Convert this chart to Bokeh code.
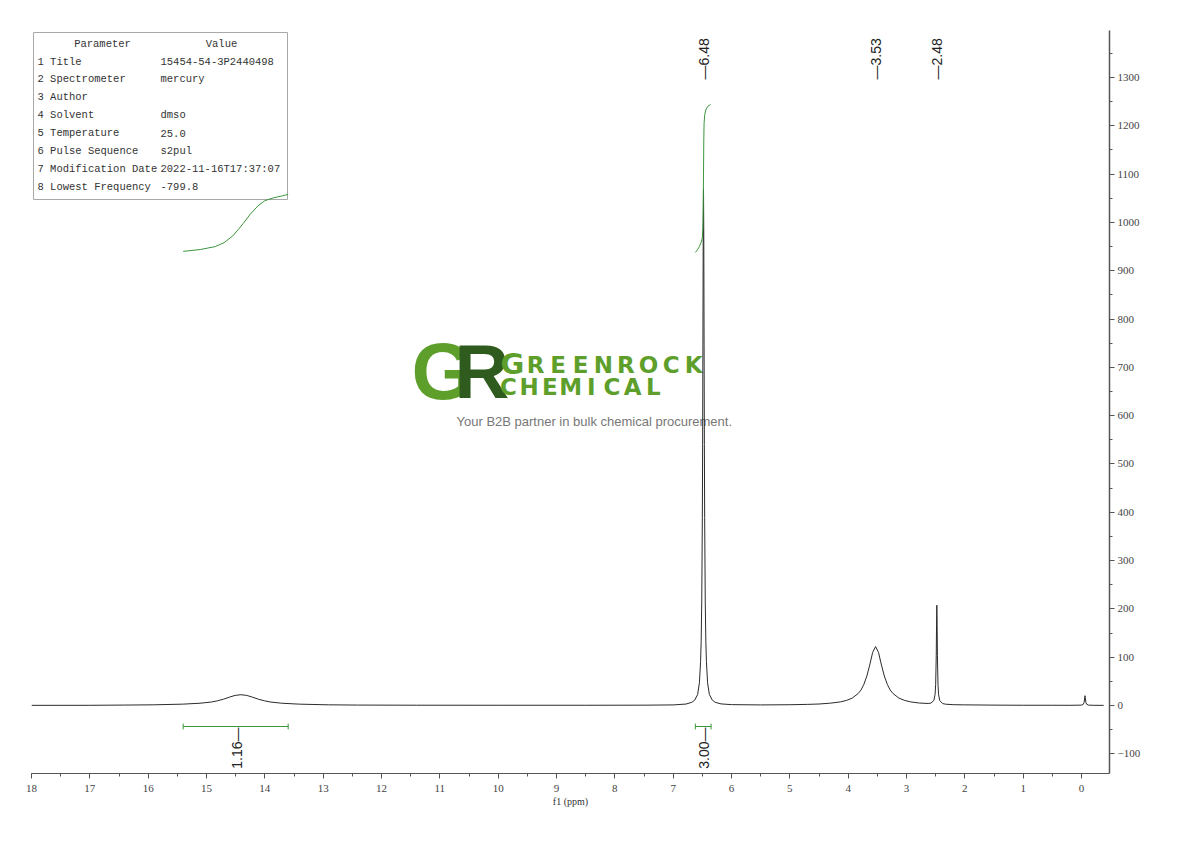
import math
from bokeh.plotting import figure
from bokeh.models import Range1d, SingleIntervalTicker
from bokeh.core.properties import value
from bokeh.embed import file_html
from bokeh.resources import INLINE

# 1H trace: chemical shift (ppm) and intensity
SPEC_PPM = [18.0, 17.0, 16.41, 15.91, 15.41, 15.11, 14.91, 14.81, 14.71, 14.61, 14.51, 14.41,
            14.31, 14.21, 14.11, 14.01, 13.91, 13.71, 13.41, 12.91, 12.41, 11.4, 10.0, 8.5,
            7.5, 7.0, 6.78, 6.68, 6.63, 6.58, 6.55, 6.53, 6.52, 6.51, 6.50, 6.495, 6.49, 6.485,
            6.48, 6.475, 6.47, 6.465, 6.46, 6.45, 6.44, 6.43, 6.41, 6.38, 6.33, 6.28, 6.18,
            6.0, 5.5, 5.0, 4.7, 4.5, 4.3, 4.13, 4.03, 3.93, 3.83, 3.78, 3.73, 3.68, 3.63, 3.58,
            3.53, 3.48, 3.43, 3.38, 3.33, 3.28, 3.23, 3.13, 3.03, 2.93, 2.78, 2.63, 2.58, 2.53,
            2.51, 2.50, 2.49, 2.485, 2.48, 2.475, 2.47, 2.46, 2.45, 2.43, 2.38, 2.33, 2.2, 2.0,
            1.5, 1.0, 0.5, 0.2, 0.0, -0.03, -0.045, -0.055, -0.06, -0.065, -0.075, -0.09,
            -0.12, -0.2, -0.38]
SPEC_INT = [0.3, 0.4, 0.9, 1.4, 2.8, 4.7, 7.3, 9.8, 13.0, 17.2, 20.9, 22.3,
            20.9, 17.2, 13.0, 9.8, 7.3, 4.7, 2.8, 1.4, 0.9, 0.6, 0.5, 0.5,
            0.7, 1.2, 3.0, 6.6, 11.3, 23, 47, 91, 133, 216, 389, 540, 748, 972,
            1070, 972, 748, 540, 389, 216, 133, 91, 47, 23, 11.3, 6.6, 3.3,
            1.8, 1.2, 1.6, 2.3, 3.1, 4.9, 7.5, 10.5, 15.3, 24.7, 32, 44, 61, 84, 110,
            122, 110, 84, 61, 44, 32, 24.7, 15.3, 10.5, 7.5, 5.1, 4.2, 5.0, 10.6,
            23, 43.5, 104.5, 166.5, 207.5, 166, 104, 43, 22.5, 10, 4.0, 2.7, 1.7, 1.3,
            0.8, 0.5, 0.5, 0.4, 0.8, 2.3, 6.5, 16.3, 20.3, 16.3, 6.5, 2.3,
            0.8, 0.4, 0.3]

PEAK_PPM = [6.48, 3.53, 2.48]
PEAK_LABELS = ["\u20146.48", "\u20143.53", "\u20142.48"]

INT_FROM = [15.4, 6.62]
INT_TO = [13.6, 6.35]
INT_MID = [14.48, 6.48]
INT_VALUES = ["1.16\u2014", "3.00\u2014"]

# integral curves (green)
INT1_PPM = [15.4, 15.1, 14.85, 14.7, 14.55, 14.45, 14.37, 14.25, 14.12, 14.0, 13.85, 13.7, 13.6]
INT1_Y = [940, 944, 950, 958, 972, 986, 998, 1017, 1034, 1045, 1051, 1055, 1058]
INT2_PPM = [6.62, 6.58, 6.55, 6.52, 6.50, 6.49, 6.485, 6.48, 6.475, 6.47, 6.46, 6.44, 6.41, 6.36]
INT2_Y = [938, 944, 950, 959, 968, 990, 1030, 1100, 1170, 1205, 1222, 1233, 1240, 1244]

PARAM_NAMES = ["1 Title", "2 Spectrometer", "3 Author", "4 Solvent", "5 Temperature",
               "6 Pulse Sequence", "7 Modification Date", "8 Lowest Frequency"]
PARAM_VALUES = ["15454-54-3P2440498", "mercury", "", "dmso", "25.0", "s2pul",
                "2022-11-16T17:37:07", "-799.8"]

GREEN = "#3c963c"
LOGO_LIGHT = "#5e9f2c"
LOGO_DARK = "#2f5c1e"


# pixel helpers for annotation placement (frame: 18 ppm at x=31, 0 at x=1081; 0 at y=705)
def sx(px):
    return 18 - (px - 31) / 58.333


def sy(py):
    return (705 - py) / 0.48308


p = figure(frame_width=1078, frame_height=743,
           x_range=Range1d(18.0, -0.48), y_range=Range1d(sy(773), sy(30)),
           y_axis_location="right", toolbar_location=None, tools="",
           output_backend="svg", min_border_left=31, min_border_top=30,
           min_border_right=10, min_border_bottom=10)
p.outline_line_color = None
p.grid.visible = False

for ax in (p.xaxis[0], p.yaxis[0]):
    ax.axis_line_color = "#555555"
    ax.major_tick_line_color = "#555555"
    ax.minor_tick_line_color = "#555555"
    ax.major_tick_in = 0
    ax.major_tick_out = 5
    ax.minor_tick_in = 0
    ax.minor_tick_out = 3
    ax.major_label_text_font = "Liberation Serif"
    ax.major_label_text_font_size = "11px"
    ax.major_label_text_color = "#444444"

p.xaxis.ticker = SingleIntervalTicker(interval=1, num_minor_ticks=2)
p.yaxis.ticker = SingleIntervalTicker(interval=100, num_minor_ticks=2)
p.xaxis.major_label_standoff = 6
p.yaxis.major_label_standoff = 3
p.yaxis.axis_line_width = 1.5
p.xaxis.axis_label = "f1 (ppm)"
p.xaxis.axis_label_text_font = "Liberation Serif"
p.xaxis.axis_label_text_font_style = "normal"
p.xaxis.axis_label_text_font_size = "10px"
p.xaxis.axis_label_text_color = "#333333"
p.xaxis.axis_label_standoff = 1

# watermark logo (under the trace)
p.text(x=[sx(411)], y=[sy(371)], text=["G"], text_font=value("Liberation Sans"),
       text_font_style="bold", text_font_size="80px", text_color=LOGO_LIGHT,
       text_align="left", text_baseline="middle")
p.text(x=[sx(454)], y=[sy(371)], text=["R"], text_font=value("Liberation Sans"),
       text_font_style="bold", text_font_size="76px", text_color=LOGO_DARK,
       text_align="left", text_baseline="middle")
p.text(x=[sx(500)], y=[sy(363)], text=["G"], text_font=value("DejaVu Sans"),
       text_font_style="bold", text_font_size="29px", text_color=LOGO_LIGHT,
       text_align="left", text_baseline="alphabetic")
word1 = "REENROCK"
p.text(x=[sx(524 + 22.6 * i + 11) for i in range(len(word1))], y=[sy(364)] * len(word1),
       text=list(word1), text_font=value("DejaVu Sans"), text_font_style="bold",
       text_font_size="23px", text_color=LOGO_LIGHT, text_align="center",
       text_baseline="alphabetic")
word2 = "CHEMICAL"
p.text(x=[sx(498 + 20.7 * i + 10) for i in range(len(word2))], y=[sy(386)] * len(word2),
       text=list(word2), text_font=value("DejaVu Sans"), text_font_style="bold",
       text_font_size="23px", text_color=LOGO_LIGHT, text_align="center",
       text_baseline="alphabetic")
p.text(x=[sx(456)], y=[sy(421)], text=["Your B2B partner in bulk chemical procurement."],
       text_font=value("Liberation Sans"), text_font_size="13px", text_color="#777777",
       text_align="left", text_baseline="middle")

# parameter table
p.quad(left=[sx(33)], right=[sx(287)], top=[sy(32)], bottom=[sy(199)],
       fill_color="white", line_color="#a8a8a8", line_width=1)
tbl_font = value("Liberation Mono")
p.text(x=[sx(102), sx(221)], y=[sy(43)] * 2, text=["Parameter", "Value"],
       text_font=tbl_font, text_font_size="10.5px", text_color="#333333",
       text_align="center", text_baseline="middle")
row_y = [sy(61 + 17.9 * i) for i in range(len(PARAM_NAMES))]
p.text(x=[sx(37)] * len(PARAM_NAMES), y=row_y, text=PARAM_NAMES,
       text_font=tbl_font, text_font_size="10.5px", text_color="#333333",
       text_align="left", text_baseline="middle")
p.text(x=[sx(160)] * len(PARAM_VALUES), y=row_y, text=PARAM_VALUES,
       text_font=tbl_font, text_font_size="10.5px", text_color="#333333",
       text_align="left", text_baseline="middle")

# spectrum
p.line(SPEC_PPM, SPEC_INT, line_color="#2b2b2b", line_width=1)

# integral curves
p.line(INT1_PPM, INT1_Y, line_color=GREEN, line_width=1)
p.line(INT2_PPM, INT2_Y, line_color=GREEN, line_width=1)

# integral bars and values
bar_y = sy(726)
p.segment(x0=INT_FROM, y0=[bar_y] * 2, x1=INT_TO, y1=[bar_y] * 2,
          line_color=GREEN, line_width=1)
p.segment(x0=INT_FROM + INT_TO, y0=[bar_y - 6] * 4, x1=INT_FROM + INT_TO,
          y1=[bar_y + 6] * 4, line_color=GREEN, line_width=1)
p.text(x=INT_MID, y=[sy(727)] * 2, text=INT_VALUES, angle=math.pi / 2,
       text_font=value("Liberation Sans"), text_font_size="14px", text_color="#222222",
       text_align="right", text_baseline="middle")

# peak labels
p.text(x=PEAK_PPM, y=[sy(79)] * 3, text=PEAK_LABELS, angle=math.pi / 2,
       text_font=value("Liberation Sans"), text_font_size="14px", text_color="#222222",
       text_align="left", text_baseline="middle")

open("out.html", "w").write(file_html(p, INLINE))
